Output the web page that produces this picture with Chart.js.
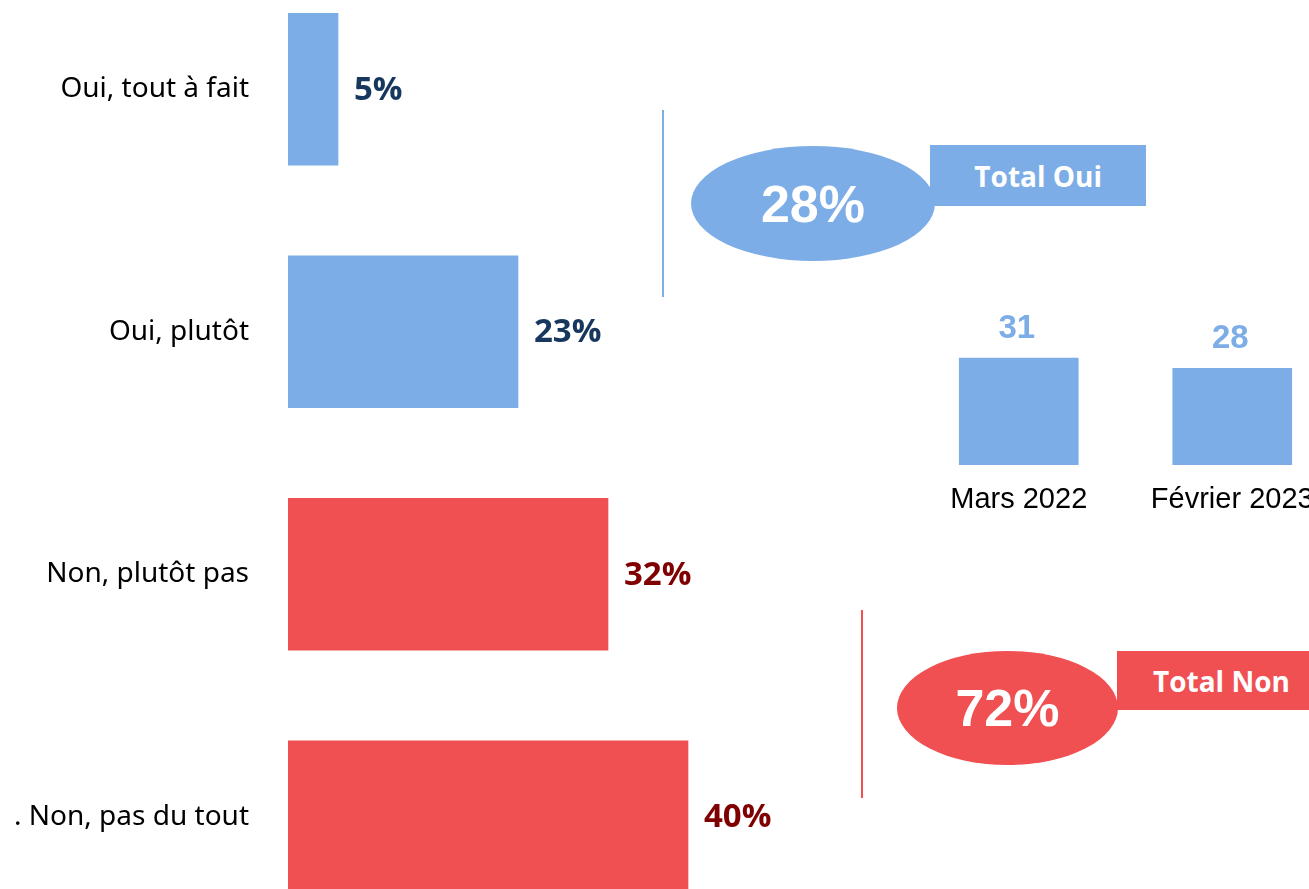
<!DOCTYPE html>
<html lang="fr">
<head>
  <meta charset="UTF-8" />
  <title>Total Oui / Total Non</title>
  <script src="https://cdn.jsdelivr.net/npm/chart.js"></script>
  <style>
    body { margin: 0; background: #fff; }
    #page { position: relative; width: 1309px; height: 889px; overflow: hidden; }
    canvas.box { position: absolute; display: block; }
    .shape { position: absolute; display: flex; align-items: center; justify-content: center; color: #fff; font-weight: bold; }
  </style>
</head>
<body>
<div id="page">
  <!-- main horizontal bars -->
  <canvas id="mainChart" class="box" width="800" height="970" style="left:0; top:-32px;"></canvas>

  <!-- mini trend chart -->
  <canvas id="trendChart" class="box" width="427" height="230" style="left:912px; top:300px;"></canvas>

  <!-- Total Oui callout -->
  <div class="shape" style="left:662px; top:110px; width:2px; height:187px; background:#7DADE6;"></div>
  <div class="shape" style="left:930px; top:145px; width:216px; height:61px; background:#7DADE6;
       font-family:'Open Sans'; font-size:28px; justify-content:flex-end; padding-right:44px; box-sizing:border-box;">Total Oui</div>
  <div class="shape" style="left:691px; top:146px; width:244px; height:115px; border-radius:50%; background:#7DADE6;
       font-family:'Liberation Sans'; font-size:52px;" id="totalOui"></div>

  <!-- Total Non callout -->
  <div class="shape" style="left:861px; top:610px; width:2px; height:188px; background:#F05052;"></div>
  <div class="shape" style="left:1117px; top:651px; width:200px; height:59px; background:#F05052;
       font-family:'Open Sans'; font-size:28px; justify-content:flex-start; padding-left:36px; box-sizing:border-box;">Total Non</div>
  <div class="shape" style="left:897px; top:651px; width:221px; height:114px; border-radius:50%; background:#F05052;
       font-family:'Liberation Sans'; font-size:52px;" id="totalNon"></div>
</div>

<script>
  // Data
  const categories = ['Oui, tout à fait', 'Oui, plutôt', 'Non, plutôt pas', '. Non, pas du tout'];
  const values = [5, 23, 32, 40];
  const barColors = ['#7DADE6', '#7DADE6', '#F05052', '#F05052'];
  const labelColors = ['#17375E', '#17375E', '#7F0000', '#7F0000'];

  const trendLabels = ['Mars 2022', 'Février 2023'];
  const trendValues = [31, 28];

  // Totals for the callouts
  document.getElementById('totalOui').textContent = (values[0] + values[1]) + '%';
  document.getElementById('totalNon').textContent = (values[2] + values[3]) + '%';

  // Value labels next to the bars
  const barValueLabels = {
    id: 'barValueLabels',
    afterDatasetsDraw(chart) {
      const ctx = chart.ctx;
      const meta = chart.getDatasetMeta(0);
      ctx.save();
      ctx.font = 'bold 33px "Open Sans"';
      ctx.textAlign = 'left';
      ctx.textBaseline = 'middle';
      meta.data.forEach((bar, i) => {
        ctx.fillStyle = labelColors[i];
        ctx.fillText(values[i] + '%', bar.x + 16, bar.y + 1);
      });
      ctx.restore();
    }
  };

  new Chart(document.getElementById('mainChart'), {
    type: 'bar',
    data: {
      labels: categories,
      datasets: [{
        data: values,
        backgroundColor: barColors,
        borderWidth: 0,
        barThickness: 152
      }]
    },
    options: {
      indexAxis: 'y',
      responsive: false,
      animation: false,
      layout: { padding: { top: 0, bottom: 0, left: 0, right: 12 } },
      plugins: { legend: { display: false }, tooltip: { enabled: false } },
      scales: {
        x: { display: false, min: 0, max: 50 },
        y: {
          grid: { display: false, drawTicks: false },
          border: { display: false },
          ticks: { color: '#000', padding: 39, font: { family: 'Noto Sans', size: 28 } },
          afterFit(scale) {
            scale.width = 288;
            // keep the label padding from pushing the bars inward
            scale.paddingTop = 0;
            scale.paddingBottom = 0;
          }
        }
      }
    },
    plugins: [barValueLabels]
  });

  // Mini chart value labels above the bars
  const trendValueLabels = {
    id: 'trendValueLabels',
    afterDatasetsDraw(chart) {
      const ctx = chart.ctx;
      const meta = chart.getDatasetMeta(0);
      ctx.save();
      ctx.font = 'bold 33px "Liberation Sans"';
      ctx.fillStyle = '#7DADE6';
      ctx.textAlign = 'center';
      ctx.textBaseline = 'alphabetic';
      meta.data.forEach((bar, i) => {
        ctx.fillText(String(trendValues[i]), bar.x - 2, bar.y - 20);
      });
      ctx.restore();
    }
  };

  new Chart(document.getElementById('trendChart'), {
    type: 'bar',
    data: {
      labels: trendLabels,
      datasets: [{
        data: trendValues,
        backgroundColor: '#7DADE6',
        borderWidth: 0,
        barThickness: 119
      }]
    },
    options: {
      responsive: false,
      animation: false,
      layout: { padding: { top: 27, bottom: 0, left: 0, right: 0 } },
      plugins: { legend: { display: false }, tooltip: { enabled: false } },
      scales: {
        y: { display: false, min: 0, max: 40 },
        x: {
          grid: { display: false, drawTicks: false },
          border: { display: false },
          ticks: { color: '#000', padding: 18, maxRotation: 0, autoSkip: false,
                   font: { family: 'Liberation Sans', size: 29 } },
          afterFit(scale) {
            scale.height = 65;
            scale.paddingLeft = 0;
            scale.paddingRight = 0;
          }
        }
      }
    },
    plugins: [trendValueLabels]
  });
</script>
</body>
</html>
